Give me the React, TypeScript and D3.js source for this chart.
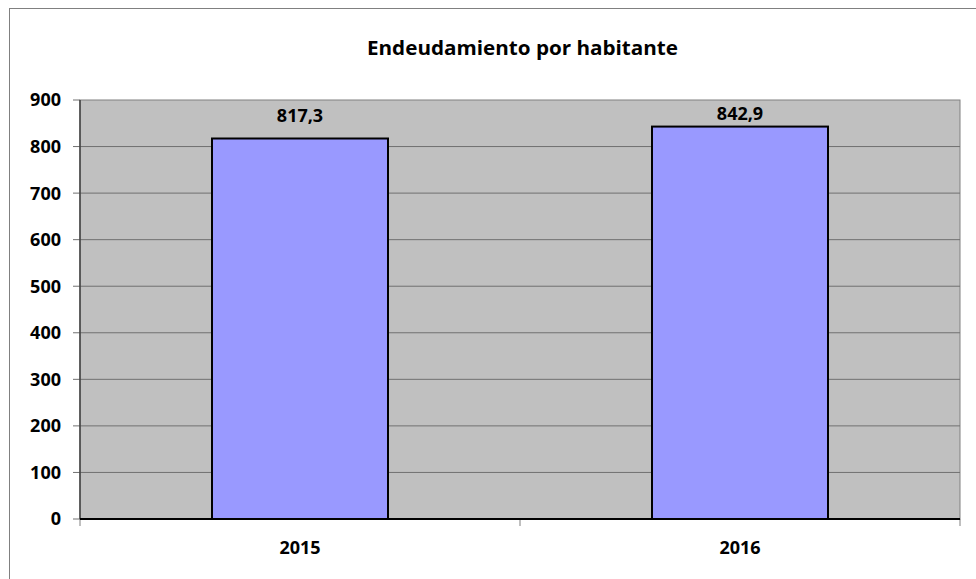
import React from "react";
import * as d3 from "d3";

const categories = ["2015", "2016"];
const values = [817.3, 842.9];
const labels = ["817,3", "842,9"];
const yTicks = [0, 100, 200, 300, 400, 500, 600, 700, 800, 900];
const title = "Endeudamiento por habitante";

export default function App() {
  const W = 976, H = 579;
  const left = 80, right = 960, top = 100, bottom = 519;
  const x = d3.scaleBand<string>().domain(categories).range([left, right]).paddingInner(0.6).paddingOuter(0.3);
  const xc = d3.scaleBand<string>().domain(categories).range([left, right]);
  const y = d3.scaleLinear().domain([0, 900]).range([bottom, top]);
  const font = "'Open Sans', 'DejaVu Sans', sans-serif";
  return (
    <svg width={W} height={H} style={{ position: "absolute", left: 0, top: 0 }}>
      <rect x={0} y={0} width={W} height={H} fill="#fff" />
      <rect x={9.5} y={8.5} width={1000} height={1000} fill="none" stroke="#808080" strokeWidth={1} />
      <text x={522.5} y={55} textAnchor="middle" fontFamily={font} fontWeight="bold" fontSize={20} textLength={311} lengthAdjust="spacingAndGlyphs">{title}</text>
      <rect x={left} y={top} width={right - left} height={bottom - top} fill="#C0C0C0" stroke="#808080" strokeWidth={1} />
      {yTicks.map((t) => (
        <g key={t}>
          {t > 0 && t < 900 && <line x1={left} x2={right} y1={y(t)} y2={y(t)} stroke="#707070" strokeWidth={1} />}
          <line x1={73} x2={left} y1={y(t)} y2={y(t)} stroke="#707070" strokeWidth={1} />
          <text x={61} y={y(t)} dy="0.36em" textAnchor="end" fontFamily={font} fontWeight="bold" fontSize={18}>{t}</text>
        </g>
      ))}
      {categories.map((c, i) => (
        <g key={c}>
          <rect x={x(c)} y={y(values[i])} width={x.bandwidth()} height={bottom - y(values[i])} fill="#9999FF" stroke="#000" strokeWidth={2} />
          <text x={x(c)! + x.bandwidth() / 2} y={Math.max(y(values[i]) - 23, top + 14)} dy="0.36em" textAnchor="middle" fontFamily={font} fontWeight="bold" fontSize={18}>{labels[i]}</text>
          <text x={xc(c)! + xc.bandwidth() / 2} y={548} dy="0.36em" textAnchor="middle" fontFamily={font} fontWeight="bold" fontSize={18}>{c}</text>
        </g>
      ))}
      {[0, 1, 2].map((k) => (
        <line key={k} x1={left + k * xc.bandwidth()} x2={left + k * xc.bandwidth()} y1={bottom} y2={526} stroke="#808080" strokeWidth={1} />
      ))}
      <line x1={left} x2={left} y1={top} y2={bottom} stroke="#404040" strokeWidth={1.5} />
      <line x1={left} x2={right} y1={bottom} y2={bottom} stroke="#000" strokeWidth={2} />
    </svg>
  );
}
